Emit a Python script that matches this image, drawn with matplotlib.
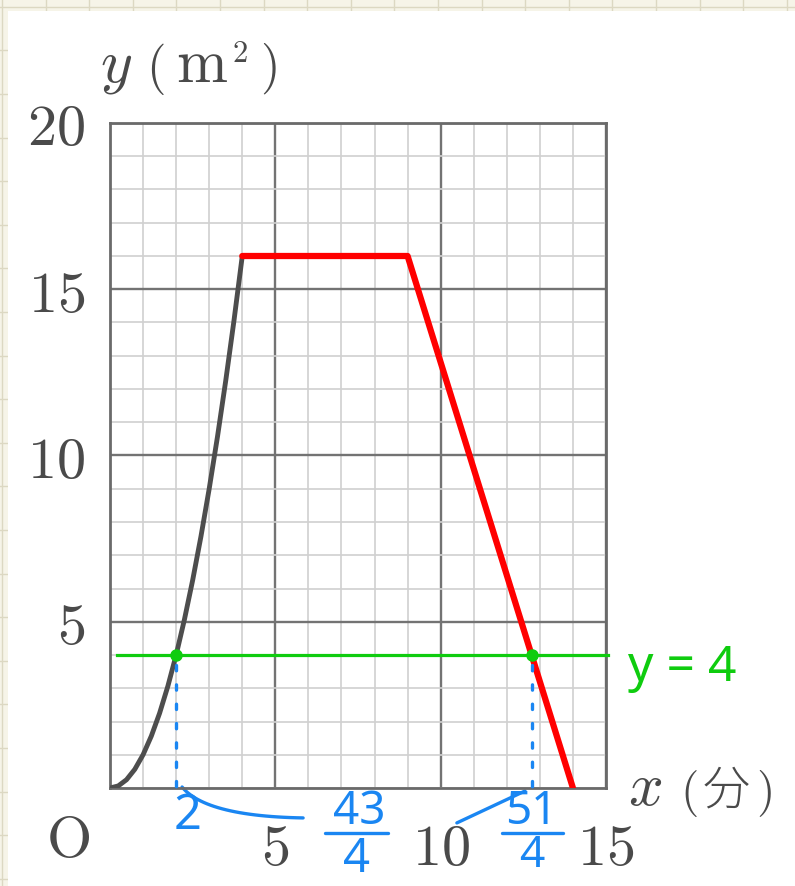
import numpy as np
import matplotlib.pyplot as plt
from matplotlib.patches import Rectangle

plt.rcParams['mathtext.fontset'] = 'cm'

# 面積 y (m^2) の変化: 0 ≤ x ≤ 4 は放物線 y = x^2 の読み取り値
curve_x = [0, 0.25, 0.5, 0.75, 1, 1.25, 1.5, 1.75, 2, 2.25, 2.5, 2.75, 3, 3.25, 3.5, 3.75, 4]
curve_y = [0, 0.0625, 0.25, 0.5625, 1, 1.5625, 2.25, 3.0625, 4, 5.0625, 6.25, 7.5625,
           9, 10.5625, 12.25, 14.0625, 16]

# 4 ≤ x ≤ 14 の折れ線 (一定 → 減少)
line_x = [4, 9, 14]
line_y = [16, 16, 0]

# y = 4 との交点
level_y = 4
level_x = [0.2, 15.05]
cross_x = [2, 12.75]

x_ticks = [5, 10, 15]
y_ticks = [5, 10, 15, 20]

W, H = 795, 886
BLUE = '#1a86f2'
GREEN = '#0fcc0f'
GRAY = '#4a4a4a'


def fp(x, y):
    # ピクセル座標 → figure 座標
    return x / W, 1 - y / H


fig = plt.figure(figsize=(W / 100, H / 100), dpi=100)
fig.patch.set_facecolor('#f6f4e8')

# 背景のノート用紙
bg = fig.add_axes([0, 0, 1, 1], zorder=-10)
bg.set_xlim(0, W)
bg.set_ylim(H, 0)
bg.axis('off')
bg.patch.set_alpha(0)
for gx in np.arange(2, W, 43.6):
    bg.axvline(gx, color='#dcd8c2', lw=1, zorder=1)
for gy in np.arange(6.8, H, 43.6):
    bg.axhline(gy, color='#dcd8c2', lw=1, zorder=1)
bg.add_patch(Rectangle((8, 11), W, H, facecolor='white', edgecolor='none', zorder=5))

ax = fig.add_axes([110 / W, 1 - 788 / H, 496 / W, 665 / H])
ax.set_xlim(0, 15)
ax.set_ylim(0, 20)
ax.set_facecolor('white')

# 方眼
ax.set_xticks(np.arange(0, 16, 1), minor=True)
ax.set_yticks(np.arange(0, 21, 1), minor=True)
ax.set_xticks(x_ticks, labels=[f'${t}$' for t in x_ticks])
ax.set_yticks(y_ticks, labels=[f'${t}$' for t in y_ticks])
ax.grid(which='minor', color='#d0d0d0', lw=1.2)
ax.grid(which='major', color='#737373', lw=1.7)
ax.set_axisbelow(True)
ax.tick_params(which='both', length=0)
ax.tick_params(axis='x', pad=23, labelsize=42, labelcolor=GRAY)
ax.tick_params(axis='y', pad=18, labelsize=42, labelcolor=GRAY)
for sp in ax.spines.values():
    sp.set_color('#6a6a6a')
    sp.set_linewidth(2)

# グラフ本体
ax.plot(curve_x, curve_y, color='#4d4d4d', lw=3.5, solid_capstyle='round', zorder=3)
ax.plot(line_x, line_y, color='#ff0000', lw=4.5, solid_capstyle='round',
        solid_joinstyle='round', zorder=4)

# y = 4 の直線と交点
ax.plot(level_x, [level_y, level_y], color=GREEN, lw=2.3, zorder=5, clip_on=False)
ax.plot(cross_x, [level_y] * len(cross_x), 'o', color=GREEN, ms=8, zorder=6)
for cx in cross_x:
    ax.plot([cx, cx], [level_y - 0.3, 0], color=BLUE, lw=2.4,
            linestyle=(0, (1.6, 4.2)), dash_capstyle='round', zorder=6, clip_on=False)

# 交点からの引き出し線
t = np.linspace(0, 1, 30)
p0, p1, p2 = np.array([2.18, 0.03]), np.array([2.9, -0.85]), np.array([5.84, -0.9])
bez = np.outer((1 - t) ** 2, p0) + np.outer(2 * (1 - t) * t, p1) + np.outer(t ** 2, p2)
ax.plot(bez[:, 0], bez[:, 1], color=BLUE, lw=2.4, solid_capstyle='round', clip_on=False)
ax.plot([12.55, 10.49], [-0.09, -1.05], color=BLUE, lw=2.4, solid_capstyle='round',
        clip_on=False)

# 軸ラベル
fig.text(*fp(100, 82), '$y$', fontsize=44, color=GRAY, va='baseline')
fig.text(*fp(146, 82), '$($', fontsize=36, color=GRAY, va='baseline')
fig.text(*fp(176, 82), r'$\mathrm{m}$', fontsize=44, color=GRAY, va='baseline')
fig.text(*fp(232, 62), r'$\mathrm{2}$', fontsize=22, color=GRAY, va='baseline')
fig.text(*fp(260, 82), '$)$', fontsize=36, color=GRAY, va='baseline')
fig.text(*fp(68, 840), '$\\mathrm{O}$', fontsize=42, color=GRAY, ha='center', va='center')
fig.text(*fp(628, 805), '$x$', fontsize=44, color=GRAY, va='baseline')
fig.text(*fp(680, 805), '$($', fontsize=34, color=GRAY, va='baseline')
fig.text(*fp(726, 791), '分', fontsize=34, color=GRAY, ha='center', va='center',
         family=['Noto Sans CJK JP', 'DejaVu Sans'], fontweight='light')
fig.text(*fp(756, 805), '$)$', fontsize=34, color=GRAY, va='baseline')

# 書き込み
hand = dict(family='Noto Sans', ha='center', va='center')
fig.text(*fp(188, 816), '2', fontsize=35, color=BLUE, **hand)
fig.text(*fp(359, 812), '43', fontsize=33, color=BLUE, **hand)
fig.text(*fp(357, 860), '4', fontsize=34, color=BLUE, **hand)
fig.add_artist(plt.Line2D([325 / W, 388 / W], [1 - 833 / H, 1 - 833 / H],
                          color=BLUE, lw=2.4, solid_capstyle='round'))
fig.text(*fp(531, 812), '51', fontsize=33, color=BLUE, **hand)
fig.text(*fp(532, 856), '4', fontsize=32, color=BLUE, **hand)
fig.add_artist(plt.Line2D([502 / W, 563 / W], [1 - 833 / H, 1 - 833 / H],
                          color=BLUE, lw=2.4, solid_capstyle='round'))
fig.text(*fp(682, 668), 'y = 4', fontsize=36, color=GREEN, **hand)

fig.savefig('out.png', dpi=100, facecolor=fig.get_facecolor())
